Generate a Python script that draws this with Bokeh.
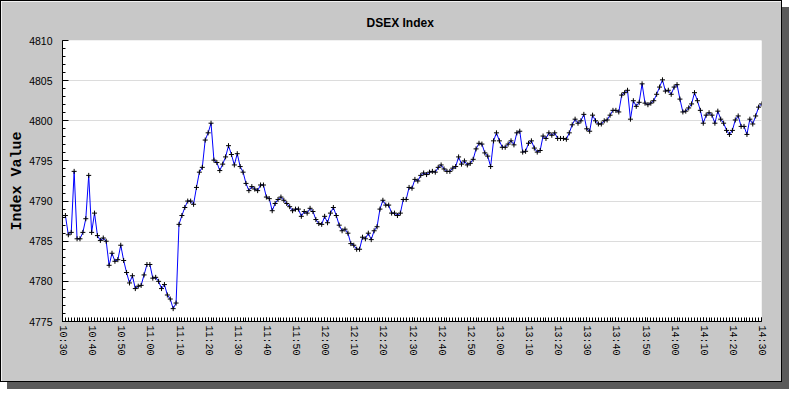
from bokeh.plotting import figure
from bokeh.models import ColumnDataSource, FixedTicker, Range1d
from bokeh.embed import file_html
from bokeh.resources import INLINE

title_text = "DSEX Index"
y_title = "Index Value"

tick_labels = ["10:30", "10:40", "10:50", "11:00", "11:10", "11:20", "11:30", "11:40",
               "11:50", "12:00", "12:10", "12:20", "12:30", "12:40", "12:50", "13:00",
               "13:10", "13:20", "13:30", "13:40", "13:50", "14:00", "14:10", "14:20", "14:30"]

y_ticks = [4775, 4780, 4785, 4790, 4795, 4800, 4805, 4810]

# index value, one reading per minute from 10:30 to 14:30
values = [
    4788.2, 4788.2, 4785.8, 4786.1, 4793.7, 4785.3, 4785.3, 4786.1, 4787.8, 4793.2,
    4786.1, 4788.5, 4785.7, 4785.1, 4785.4, 4785.0, 4782.0, 4783.5, 4782.5, 4782.7,
    4784.5, 4782.6, 4781.1, 4779.8, 4780.7, 4779.1, 4779.4, 4779.5, 4780.8, 4782.1,
    4782.1, 4780.4, 4780.5, 4780.0, 4779.1, 4779.6, 4778.3, 4777.8, 4776.6, 4777.3,
    4787.1, 4788.2, 4789.2, 4790.0, 4790.0, 4789.6, 4791.7, 4793.6, 4794.2, 4797.6,
    4798.5, 4799.7, 4795.1, 4794.8, 4793.8, 4794.6, 4795.5, 4796.9, 4795.8, 4794.5,
    4795.9, 4794.3, 4793.6, 4792.2, 4791.3, 4791.8, 4791.5, 4791.3, 4792.0, 4792.0,
    4790.5, 4790.3, 4788.8, 4789.7, 4790.2, 4790.5, 4790.1, 4789.7, 4789.3, 4788.8,
    4789.0, 4789.0, 4788.1, 4788.7, 4788.5, 4789.1, 4788.7, 4787.7, 4787.2, 4787.1,
    4788.1, 4787.3, 4788.5, 4789.2, 4788.2, 4787.0, 4786.3, 4786.5, 4786.0, 4784.7,
    4784.5, 4784.0, 4784.0, 4785.5, 4785.3, 4786.0, 4785.2, 4786.3, 4786.8, 4789.0,
    4790.1, 4789.5, 4789.5, 4788.5, 4788.5, 4788.2, 4788.5, 4790.2, 4790.2, 4791.7,
    4791.6, 4792.7, 4792.5, 4793.2, 4793.5, 4793.3, 4793.6, 4793.7, 4793.6, 4794.2,
    4794.5, 4794.0, 4793.7, 4793.7, 4794.1, 4794.3, 4795.5, 4794.6, 4795.0, 4794.5,
    4794.7, 4795.2, 4796.5, 4797.2, 4797.1, 4796.0, 4795.6, 4794.3, 4797.5, 4798.5,
    4797.5, 4796.7, 4796.7, 4797.1, 4797.5, 4797.0, 4798.5, 4798.7, 4796.1, 4796.2,
    4797.2, 4797.5, 4796.6, 4796.1, 4796.3, 4798.1, 4797.8, 4798.5, 4798.2, 4798.5,
    4797.8, 4797.8, 4797.8, 4797.7, 4798.5, 4799.5, 4800.2, 4799.7, 4800.0, 4800.8,
    4799.0, 4798.7, 4800.7, 4800.0, 4799.6, 4799.6, 4800.0, 4800.1, 4800.7, 4801.3,
    4801.3, 4801.1, 4803.2, 4803.5, 4803.8, 4800.2, 4802.5, 4801.8, 4802.3, 4804.6,
    4802.2, 4802.0, 4802.2, 4802.5, 4803.3, 4804.2, 4805.1, 4803.7, 4803.8, 4803.3,
    4804.2, 4804.5, 4802.7, 4801.1, 4801.2, 4801.6, 4802.1, 4803.5, 4802.5, 4801.3,
    4799.7, 4800.7, 4801.0, 4800.7, 4799.7, 4801.2, 4800.2, 4799.7, 4798.8, 4798.3,
    4798.8, 4800.1, 4800.6, 4799.3, 4799.3, 4798.3, 4800.2, 4799.6, 4800.6, 4801.7,
    4802.1,
]

minutes = list(range(len(values)))  # minutes after 10:30
major_x = [10 * i for i in range(len(tick_labels))]

src = ColumnDataSource(dict(x=minutes, y=values))

p = figure(width=782, height=382, output_backend="svg", toolbar_location=None,
           x_range=Range1d(0, minutes[-1]), y_range=Range1d(y_ticks[0], y_ticks[-1]),
           title=title_text)
p.styles = {"border": "1px solid black", "box-shadow": "7px 7px 0 0 #5a5a5a"}
p.background_fill_color = "white"
p.border_fill_color = "#c8c8c8"
p.outline_line_color = None
p.min_border_left = 61
p.min_border_right = 22
p.min_border_top = 39
p.min_border_bottom = 62

p.title.text_font = "Liberation Sans"
p.title.text_font_size = "12px"
p.title.text_font_style = "bold"
p.title.text_color = "black"
p.title.align = "left"
p.title.offset = 304
p.title.standoff = 22

# x axis
p.xaxis.ticker = FixedTicker(ticks=major_x, minor_ticks=minutes)
p.xaxis.major_label_overrides = {t: l for t, l in zip(major_x, tick_labels)}
p.xaxis.major_label_orientation = "vertical"
p.xaxis.major_label_text_font = "Liberation Mono"
p.xaxis.major_label_text_font_size = "10px"
p.xaxis.major_label_text_color = "black"
p.xaxis.major_label_standoff = 4
p.xaxis.major_tick_in = 4
p.xaxis.major_tick_out = 0
p.xaxis.minor_tick_in = 4
p.xaxis.minor_tick_out = 0
p.xaxis.axis_line_color = "black"
p.xaxis.major_tick_line_color = "black"
p.xaxis.minor_tick_line_color = "black"

# y axis
p.yaxis.ticker = FixedTicker(ticks=y_ticks, minor_ticks=list(range(y_ticks[0], y_ticks[-1] + 1)))
p.yaxis.major_label_text_font = "Liberation Sans"
p.yaxis.major_label_text_font_size = "10.5px"
p.yaxis.major_label_text_color = "black"
p.yaxis.major_label_standoff = 10
p.yaxis.major_tick_in = 6
p.yaxis.major_tick_out = 0
p.yaxis.minor_tick_in = 3
p.yaxis.minor_tick_out = 0
p.yaxis.axis_line_color = "black"
p.yaxis.major_tick_line_color = "black"
p.yaxis.minor_tick_line_color = "black"
p.yaxis.axis_label = y_title
p.yaxis.axis_label_text_font = "Liberation Mono"
p.yaxis.axis_label_text_font_size = "15px"
p.yaxis.axis_label_text_font_style = "bold"
p.yaxis.axis_label_text_color = "black"
p.yaxis.axis_label_standoff = 0

p.xgrid.visible = False
p.ygrid.grid_line_color = "#dcdcdc"

p.line("x", "y", source=src, line_color="#0000ff", line_width=1)
p.scatter("x", "y", source=src, marker="cross", size=5, line_color="black", line_width=1)

open("out.html", "w").write(file_html(p, INLINE))
